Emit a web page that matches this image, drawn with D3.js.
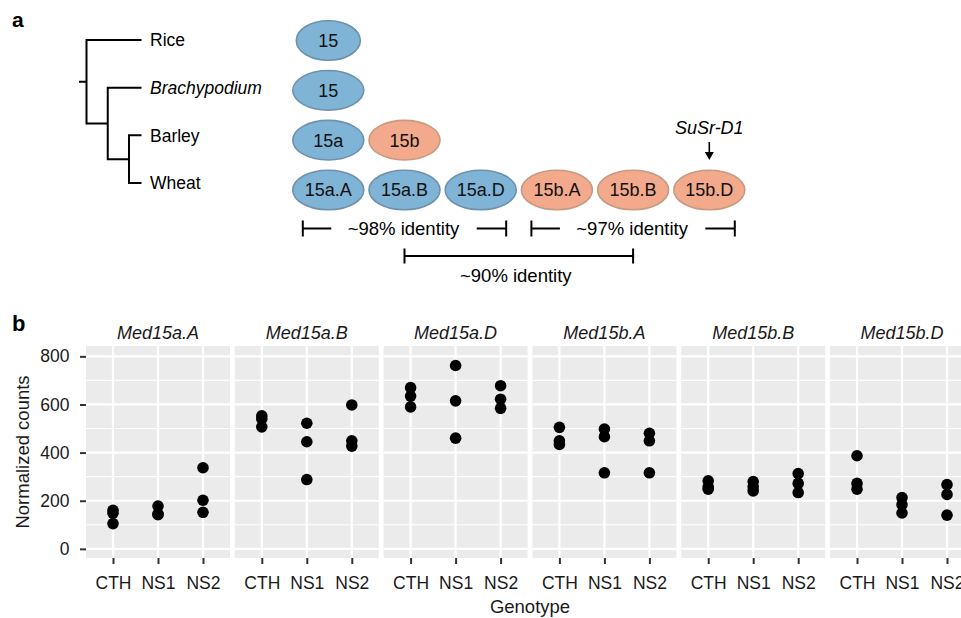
<!DOCTYPE html>
<html>
<head>
<meta charset="utf-8">
<script src="https://cdn.jsdelivr.net/npm/d3@7"></script>
<style>
  html, body { margin: 0; padding: 0; background: #fff; }
  svg { display: block; font-family: "Liberation Sans", Arial, Helvetica, sans-serif; }
</style>
</head>
<body>
<svg id="chart" width="961" height="618"></svg>
<script>
// ---------- Panel a data ----------
const species = ["Rice", "Brachypodium", "Barley", "Wheat"];
const italicSpecies = ["Brachypodium"];
const geneRowRice = ["15"];
const geneRowBrachy = ["15"];
const geneRowBarley = ["15a", "15b"];
const geneRowWheat = ["15a.A", "15a.B", "15a.D", "15b.A", "15b.B", "15b.D"];
const geneGroupRice = ["a"];
const geneGroupBrachy = ["a"];
const geneGroupBarley = ["a", "b"];
const geneGroupWheat = ["a", "a", "a", "b", "b", "b"];
const identityLabels = ["~98% identity", "~97% identity", "~90% identity"];
const identityFrom = [0, 3, 1];
const identityTo = [2, 5, 4];
const identityLevel = [0, 0, 1];
const arrowLabel = "SuSr-D1";
const arrowTargetCol = 5;

// ---------- Panel b data ----------
const facets = ["Med15a.A", "Med15a.B", "Med15a.D", "Med15b.A", "Med15b.B", "Med15b.D"];
const genotypes = ["CTH", "NS1", "NS2"];
const yTicks = [0, 200, 400, 600, 800];
const yMinorTicks = [100, 300, 500, 700];
// values per facet: CTH x3, NS1 x3, NS2 x3
const valsMed15aA = [160, 148, 105, 178, 145, 142, 337, 202, 152];
const valsMed15aB = [553, 540, 507, 522, 445, 288, 598, 449, 427];
const valsMed15aD = [670, 635, 590, 762, 615, 460, 678, 622, 584];
const valsMed15bA = [505, 449, 434, 498, 466, 316, 480, 449, 316];
const valsMed15bB = [283, 258, 248, 280, 258, 241, 313, 272, 234];
const valsMed15bD = [387, 272, 248, 213, 184, 149, 267, 226, 140];
const replicateGenotype = ["CTH", "CTH", "CTH", "NS1", "NS1", "NS1", "NS2", "NS2", "NS2"];

const svg = d3.select("#chart");

// ================= Panel a =================
const gA = svg.append("g");
gA.append("text").attr("x", 12).attr("y", 27).attr("font-size", 21).attr("font-weight", "bold").text("a");

// tree
const treeData = { children: [ { name: "Rice" }, { children: [ { name: "Brachypodium" }, { children: [ { name: "Barley" }, { name: "Wheat" } ] } ] } ] };
const root = d3.hierarchy(treeData);
const labelY = d3.scalePoint().domain(species).range([40, 183]);
const depthX = d3.scaleLinear().domain([0, 2]).range([86.5, 129]);
const tipX = 141.5;
root.eachAfter(n => {
  if (!n.children) { n.py = labelY(n.data.name); n.px = tipX; }
  else { n.py = d3.mean(n.children, c => c.py); n.px = depthX(n.depth); }
});
const treePath = d3.path();
root.each(n => {
  if (n.children) {
    const ys = n.children.map(c => c.py);
    treePath.moveTo(n.px, d3.min(ys) - 1); treePath.lineTo(n.px, d3.max(ys) + 1);
    n.children.forEach(c => { treePath.moveTo(n.px - 1, c.py); treePath.lineTo(c.px, c.py); });
  }
});
treePath.moveTo(root.px - 7.5, root.py); treePath.lineTo(root.px, root.py);
gA.append("path").attr("d", treePath.toString()).attr("fill", "none").attr("stroke", "#000").attr("stroke-width", 2);
gA.selectAll("text.sp").data(root.leaves()).join("text")
  .attr("class", "sp")
  .attr("x", 150).attr("y", d => d.py).attr("dy", "0.36em")
  .attr("font-size", 17.5)
  .attr("font-style", d => italicSpecies.includes(d.data.name) ? "italic" : "normal")
  .text(d => d.data.name);

// gene ellipses
const colX = d3.scaleLinear().domain([0, 5]).range([328.3, 709.3]);
const rowY = d3.scalePoint().domain(species).range([40.5, 190]);
const rowGenes = [geneRowRice, geneRowBrachy, geneRowBarley, geneRowWheat];
const rowGroups = [geneGroupRice, geneGroupBrachy, geneGroupBarley, geneGroupWheat];
const fillCol = { a: "#7fb4d6", b: "#f3a98b" };
const strokeCol = { a: "#6f91ab", b: "#c59b82" };
const genes = [];
species.forEach((s, r) => rowGenes[r].forEach((g, c) => genes.push({ s, r, c, g, grp: rowGroups[r][c] })));
const gEl = gA.selectAll("g.gene").data(genes).join("g").attr("class", "gene")
  .attr("transform", d => `translate(${colX(d.c)},${rowY(d.s)})`);
gEl.append("ellipse").attr("rx", d => d.r === 0 ? 32 : 35.5).attr("ry", 19.8)
  .attr("fill", d => fillCol[d.grp]).attr("stroke", d => strokeCol[d.grp]).attr("stroke-width", 1.6);
gEl.append("text").attr("text-anchor", "middle").attr("dy", "0.36em").attr("font-size", 18).attr("fill", "#111").text(d => d.g);

// arrow + label
const ax = colX(arrowTargetCol);
gA.append("text").attr("x", ax).attr("y", 134).attr("text-anchor", "middle").attr("font-size", 18).attr("font-style", "italic").text(arrowLabel);
gA.append("line").attr("x1", ax).attr("x2", ax).attr("y1", 142).attr("y2", 155).attr("stroke", "#000").attr("stroke-width", 1.6);
gA.append("path").attr("d", `M${ax - 4.5},152 L${ax + 4.5},152 L${ax},160 Z`).attr("fill", "#000");

// identity brackets
const levelY = [228.5, 256];
const levelTick = [8, 7.5];
const levelExt = [25.5, 0];
identityLabels.forEach((lab, i) => {
  const lv = identityLevel[i];
  const x0 = colX(identityFrom[i]) - levelExt[lv];
  const x1 = colX(identityTo[i]) + levelExt[lv];
  const yy = levelY[lv], t = levelTick[lv];
  const p = d3.path();
  p.moveTo(x0, yy - t); p.lineTo(x0, yy + t);
  p.moveTo(x1, yy - t); p.lineTo(x1, yy + t);
  if (lv === 0) {
    p.moveTo(x0, yy); p.lineTo(x0 + 28.5, yy);
    p.moveTo(x1 - 29.5, yy); p.lineTo(x1, yy);
  } else {
    p.moveTo(x0, yy); p.lineTo(x1, yy);
  }
  gA.append("path").attr("d", p.toString()).attr("stroke", "#000").attr("stroke-width", 2).attr("fill", "none");
  gA.append("text").attr("x", (x0 + x1) / 2 - (lv === 0 ? 1 : 3)).attr("y", lv === 0 ? yy : 275)
    .attr("dy", "0.36em").attr("text-anchor", "middle").attr("font-size", 18.5).text(lab);
});

// ================= Panel b =================
const gB = svg.append("g");
gB.append("text").attr("x", 12).attr("y", 331).attr("font-size", 22).attr("font-weight", "bold").text("b");

const facetValues = [valsMed15aA, valsMed15aB, valsMed15aD, valsMed15bA, valsMed15bB, valsMed15bD];
const fx = d3.scaleBand().domain(facets).range([86, 974]).paddingInner(0.0323).paddingOuter(0);
const pw = fx.bandwidth();
const y = d3.scaleLinear().domain([-38, 843]).range([558, 346]);
const gx = d3.scalePoint().domain(genotypes).range([27, pw - 27]);

facets.forEach((f, i) => {
  const g = gB.append("g").attr("transform", `translate(${fx(f)},0)`);
  g.append("rect").attr("x", 0).attr("y", 346).attr("width", pw).attr("height", 212).attr("fill", "#ebebeb");
  g.selectAll("line.minor").data(yMinorTicks).join("line").attr("class", "minor")
    .attr("x1", 0).attr("x2", pw).attr("y1", d => y(d)).attr("y2", d => y(d))
    .attr("stroke", "#fff").attr("stroke-width", 1.1);
  g.selectAll("line.major").data(yTicks).join("line").attr("class", "major")
    .attr("x1", 0).attr("x2", pw).attr("y1", d => y(d)).attr("y2", d => y(d))
    .attr("stroke", "#fff").attr("stroke-width", 2.2);
  g.selectAll("line.vmajor").data(genotypes).join("line").attr("class", "vmajor")
    .attr("x1", d => gx(d)).attr("x2", d => gx(d)).attr("y1", 346).attr("y2", 558)
    .attr("stroke", "#fff").attr("stroke-width", 2.2);
  // strip title
  g.append("text").attr("x", pw / 2).attr("y", 333).attr("dy", "0.36em").attr("text-anchor", "middle")
    .attr("font-size", 18).attr("font-style", "italic").attr("fill", "#1a1a1a").text(f);
  // x axis
  const xa = g.append("g").attr("transform", "translate(0,558)")
    .call(d3.axisBottom(gx).tickSize(6).tickPadding(13));
  xa.select(".domain").remove();
  xa.selectAll(".tick line").attr("stroke", "#333").attr("stroke-width", 2);
  xa.selectAll(".tick text").attr("font-size", 17.5).attr("fill", "#1a1a1a").attr("font-family", "Liberation Sans, Arial, sans-serif");
  // points
  g.selectAll("circle").data(facetValues[i]).join("circle")
    .attr("cx", (d, k) => gx(replicateGenotype[k]))
    .attr("cy", d => y(d)).attr("r", 5.8).attr("fill", "#000");
});

// y axis
const ya = gB.append("g").attr("transform", "translate(86,0)")
  .call(d3.axisLeft(y).tickValues(yTicks).tickSize(6).tickPadding(10.5));
ya.select(".domain").remove();
ya.selectAll(".tick line").attr("stroke", "#333").attr("stroke-width", 2);
ya.selectAll(".tick text").attr("font-size", 17.5).attr("fill", "#1a1a1a").attr("font-family", "Liberation Sans, Arial, sans-serif");

gB.append("text").attr("transform", "translate(22,452) rotate(-90)").attr("text-anchor", "middle").attr("dy", "0.36em")
  .attr("font-size", 18.5).attr("fill", "#1a1a1a").text("Normalized counts");
gB.append("text").attr("x", 530).attr("y", 606).attr("dy", "0.36em").attr("text-anchor", "middle")
  .attr("font-size", 18.5).attr("fill", "#1a1a1a").text("Genotype");
</script>
</body>
</html>
